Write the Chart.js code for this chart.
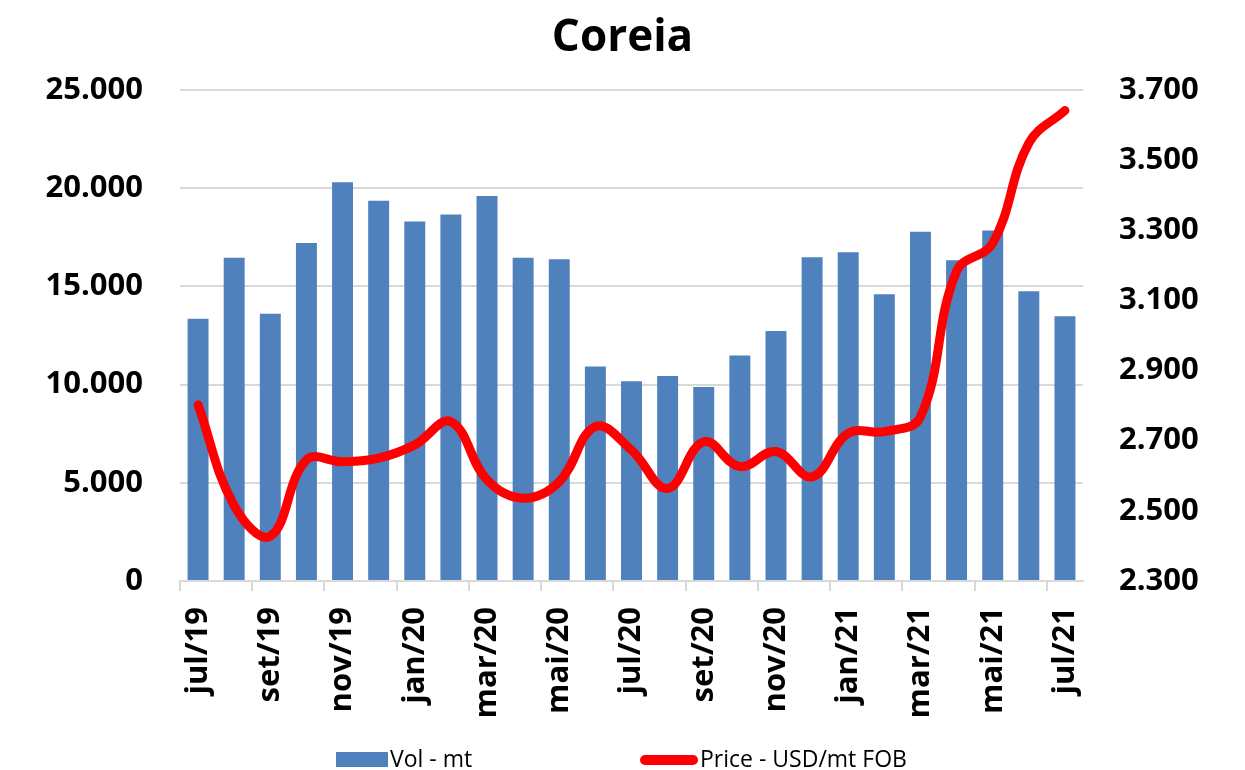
<!DOCTYPE html>
<html>
<head>
<meta charset="utf-8">
<script src="https://cdn.jsdelivr.net/npm/chart.js@4"></script>
<style>
  body { margin: 0; background: #fff; }
  #wrap { position: relative; width: 1245px; height: 770px; }
  .lg { position: absolute; font-family: "Open Sans", sans-serif; font-size: 23px; color: #000; line-height: 23px; }
</style>
</head>
<body>
<div id="wrap">
  <canvas id="chart" width="1245" height="770"></canvas>
  <div style="position:absolute;left:336px;top:752px;width:52px;height:15px;background:#4F81BD"></div>
  <div class="lg" style="left:390px;top:747px">Vol - mt</div>
  <div style="position:absolute;left:640px;top:755px;width:58px;height:10px;background:#FF0000;border-radius:5px"></div>
  <div class="lg" style="left:700px;top:747px">Price - USD/mt FOB</div>
</div>
<script>
const months = ["jul/19", "ago/19", "set/19", "out/19", "nov/19", "dez/19", "jan/20", "fev/20", "mar/20", "abr/20", "mai/20", "jun/20",
  "jul/20", "ago/20", "set/20", "out/20", "nov/20", "dez/20", "jan/21", "fev/21", "mar/21", "abr/21", "mai/21", "jun/21", "jul/21"];
const volume = [13350, 16450, 13600, 17200, 20300, 19350, 18300, 18650, 19600, 16450, 16380, 10920,
  10170, 10430, 9870, 11480, 12720, 16480, 16730, 14600, 17770, 16330, 17840, 14750, 13480];
const price = [2802, 2515, 2428, 2645, 2640, 2650, 2688, 2754, 2588, 2536, 2583, 2740,
  2673, 2564, 2697, 2626, 2669, 2597, 2721, 2726, 2768, 3183, 3263, 3548, 3641];

const fmt = v => String(v).replace(/\B(?=(\d{3})+(?!\d))/g, ".");
const tickFont = { family: "Open Sans", size: 31, weight: "bold" };

new Chart(document.getElementById("chart"), {
  data: {
    labels: months,
    datasets: [
      {
        type: "line",
        label: "Price - USD/mt FOB",
        data: price,
        yAxisID: "y2",
        borderColor: "#FF0000",
        borderWidth: 9,
        tension: 0.4,
        pointRadius: 0,
        borderCapStyle: "round",
        borderJoinStyle: "round",
        order: 0
      },
      {
        type: "bar",
        label: "Vol - mt",
        data: volume,
        yAxisID: "y",
        backgroundColor: "#4F81BD",
        categoryPercentage: 0.58,
        barPercentage: 1,
        order: 1
      }
    ]
  },
  options: {
    responsive: false,
    animation: false,
    layout: { padding: { left: 0, right: 0, top: 0, bottom: 0 } },
    plugins: {
      legend: { display: false },
      tooltip: { enabled: false },
      title: {
        display: true,
        text: "Coreia",
        color: "#000",
        font: { family: "Open Sans", size: 44, weight: "bold" },
        padding: { top: 12, bottom: 25 }
      }
    },
    scales: {
      x: {
        offset: true,
        grid: {
          offset: true,
          drawOnChartArea: false,
          tickLength: 10,
          color: ctx => ctx.index % 2 === 0 ? "#d9d9d9" : "rgba(0,0,0,0)",
          lineWidth: 2
        },
        border: { display: true, color: "#d9d9d9", width: 2 },
        ticks: {
          autoSkip: false,
          maxRotation: 90,
          minRotation: 90,
          padding: 16,
          color: "#000",
          font: tickFont,
          callback: function (v, i) { return i % 2 === 0 ? months[i] : ""; }
        },
        afterFit: s => { s.height = 189; }
      },
      y: {
        position: "left",
        min: 0,
        max: 25000,
        grid: { color: "#d9d9d9", lineWidth: 2, drawTicks: false },
        border: { display: false },
        ticks: { stepSize: 5000, padding: 37, color: "#000", font: tickFont, callback: v => fmt(v) },
        afterFit: s => { s.width = 180; }
      },
      y2: {
        position: "right",
        min: 2300,
        max: 3700,
        grid: { drawOnChartArea: false, drawTicks: false },
        border: { display: false },
        ticks: { stepSize: 200, padding: 36, color: "#000", font: tickFont, callback: v => fmt(v) },
        afterFit: s => { s.width = 162; }
      }
    }
  }
});
</script>
</body>
</html>
